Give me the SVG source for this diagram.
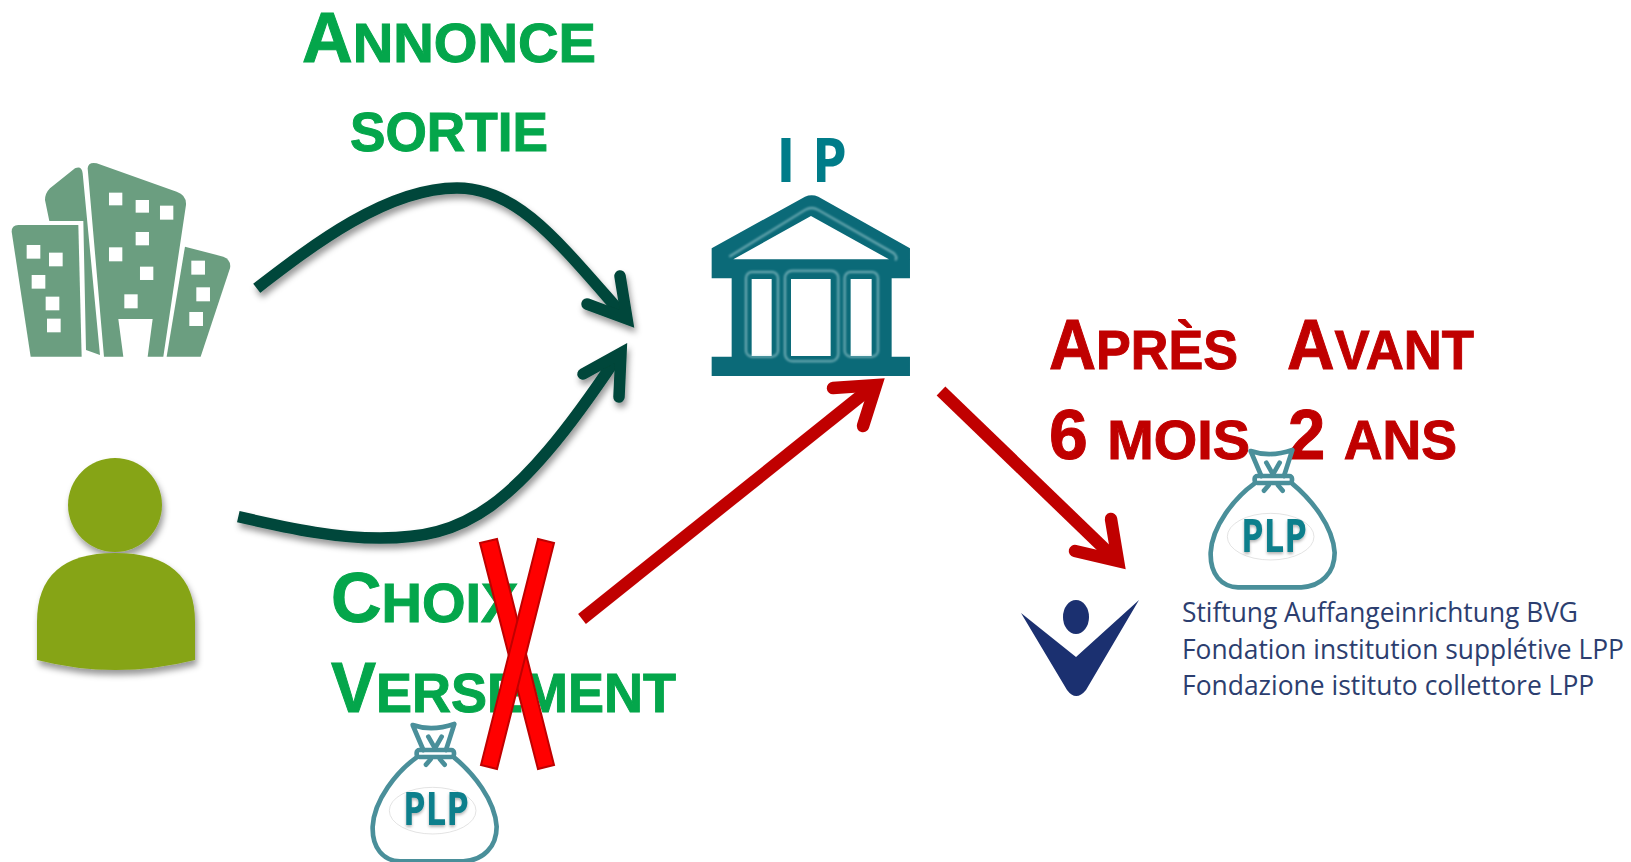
<svg xmlns="http://www.w3.org/2000/svg" width="1631" height="862" viewBox="0 0 1631 862">
<style>
.g{fill:#04A64B;stroke:#04A64B}.r{fill:#C00000;stroke:#C00000}
.big{font:bold 70px "Liberation Sans",Arial,sans-serif;stroke-width:1}
.sm{font-size:56px}
.dk{fill:none;stroke:#04463A;stroke-width:11.5}
.rd{fill:none;stroke:#C00000;stroke-width:12.5}
.hd{stroke-linecap:round;stroke-linejoin:miter;stroke-miterlimit:10}
.x{fill:#FF0000;stroke:#C00000;stroke-width:2}
.w{fill:#fff}
.bag{fill:none;stroke:#4A8F9A;stroke-width:14;stroke-linecap:round;stroke-linejoin:round}
.plp{font:bold 46px "Open Sans",sans-serif;fill:#0B7F8C;filter:url(#ts)}
.lg{font:27px "Open Sans",sans-serif;fill:#2C3E6F}
.ip{font:bold 60px "Open Sans",sans-serif;fill:#007C89}
</style>
<defs>
<filter id="sh" x="-20%" y="-20%" width="140%" height="140%"><feDropShadow dx="2" dy="5" stdDeviation="3" flood-color="#000" flood-opacity=".4"/></filter>
<filter id="ts" x="-10%" y="-10%" width="120%" height="130%"><feDropShadow dx="0" dy="2" stdDeviation="1.5" flood-color="#000" flood-opacity=".3"/></filter>
<filter id="gl" x="-10%" y="-10%" width="120%" height="120%"><feGaussianBlur stdDeviation="3"/></filter>
<g id="bag">
<path class="w" style="stroke:none" d="M170,172C110,215 42,300 38,380C36,445 70,482 120,484L310,484C370,482 410,440 410,380C405,300 340,220 282,172Z"/>
<path class="bag" d="M170,172C110,215 42,300 38,380C36,445 70,482 120,484L310,484C370,482 410,440 410,380C405,300 340,220 282,172"/>
<path class="bag" d="M190,150L158,75Q215,95 283,72L258,150"/>
<rect class="bag" x="170" y="150" width="112" height="21" rx="8"/>
<path class="bag" d="M205,110L225,145L245,110M212,178L198,194M240,178L254,194"/>
<ellipse cx="218" cy="332" rx="130" ry="70" fill="#fff" stroke="#d5d5d5" stroke-width="2"/>
</g>
</defs>

<g id="connectors">
<g filter="url(#sh)">
<path class="dk" d="M256.7,288.3C313,245 387,188 457,188C517,188 557,240 623,315"/>
<path class="dk hd" d="M620,276L627,319L587,304"/>
<path class="dk" d="M238.3,516.7C297,530 337,538 380,538C463,538 513,513 617,357"/>
<path class="dk hd" d="M619,397L621,353L583,374"/>
</g>
<path class="rd" d="M582,619L872,387"/>
<path class="rd hd" d="M833,388L876,385L863,426"/>
<path class="rd" d="M941,391L1112,556"/>
<path class="rd hd" d="M1111,519L1118,561L1075,551"/>
</g>

<g id="building">
<g transform="translate(0,140) scale(.3333)">
<g fill="#6B9E80">
<path d="M135,180Q135,160 150,145L225,85Q245,75 248,100L300,645L258,630L250,243L148,243Z"/>
<path d="M263,85Q265,65 290,70L530,155Q560,165 558,195L490,650L443,650L458,537L355,537L370,650L312,650Z"/>
<path d="M555,320L670,350Q695,360 690,385L602,650L500,650Z"/>
<path d="M35,275Q35,255 55,255L235,255L245,650L92,650Z"/>
</g>
<g class="w">
<rect x="327" y="158" width="40" height="38"/><rect x="407" y="180" width="40" height="38"/><rect x="480" y="197" width="40" height="42"/>
<rect x="407" y="276" width="40" height="40"/><rect x="327" y="322" width="40" height="42"/><rect x="420" y="380" width="40" height="40"/><rect x="373" y="463" width="40" height="42"/>
<rect x="80" y="315" width="41" height="41"/><rect x="147" y="338" width="41" height="41"/><rect x="95" y="405" width="41" height="41"/><rect x="137" y="470" width="41" height="41"/><rect x="141" y="536" width="41" height="41"/>
<rect x="574" y="362" width="41" height="42"/><rect x="589" y="442" width="41" height="42"/><rect x="568" y="516" width="41" height="42"/>
</g>
</g>
</g>

<g id="person" fill="#86A418" filter="url(#sh)">
<circle cx="115" cy="505" r="47"/>
<path d="M37,660L37,622Q37,553 115,553Q195,553 195,622L195,660Q115,680 37,660Z"/>
</g>

<g id="bank">
<g transform="translate(690,120) scale(.3333)">
<path fill="#0B6A78" fill-rule="evenodd" d="M65,385L345,230Q365,222 385,230L660,385L660,475L605,475L605,710L660,710L660,768L65,768L65,710L125,710L125,475L65,475ZM130,418L363,288L597,418ZM185,477L185,708L245,708L245,477ZM303,477L303,708L422,708L422,477ZM482,477L482,708L545,708L545,477Z"/>
<g fill="none" stroke="#BFE0E4" stroke-width="6" opacity=".6" filter="url(#gl)">
<path d="M118,410L345,270Q365,258 385,270L612,400Q625,415 615,420"/>
<rect x="168" y="456" width="96" height="254" rx="18"/>
<rect x="285" y="452" width="160" height="272" rx="22"/>
<rect x="464" y="456" width="100" height="254" rx="18"/>
</g>
</g>
<text class="ip" x="776" y="182">I</text>
<text class="ip" x="812" y="182" textLength="35" lengthAdjust="spacingAndGlyphs">P</text>
</g>

<g id="label-annonce" class="big g">
<text x="302" y="62" textLength="294" lengthAdjust="spacingAndGlyphs">A<tspan class="sm">NNONCE</tspan></text>
<text x="350" y="151" class="sm" textLength="198" lengthAdjust="spacingAndGlyphs">SORTIE</text>
</g>
<g id="label-choix" class="big g">
<text x="331" y="622">C<tspan class="sm">HOIX</tspan></text>
<text x="331" y="712" textLength="345" lengthAdjust="spacingAndGlyphs">V<tspan class="sm">ERSEMENT</tspan></text>
</g>
<g id="label-delais" class="big r">
<text x="1049" y="369" textLength="189" lengthAdjust="spacingAndGlyphs">A<tspan class="sm">PRÈS</tspan></text>
<text x="1287" y="369" textLength="187" lengthAdjust="spacingAndGlyphs">A<tspan class="sm">VANT</tspan></text>
<text x="1049" y="459" textLength="201" lengthAdjust="spacingAndGlyphs">6 <tspan class="sm">MOIS</tspan></text>
<text x="1288" y="459" textLength="169" lengthAdjust="spacingAndGlyphs">2 <tspan class="sm">ANS</tspan></text>
</g>

<g id="cross">
<polygon class="x" points="480,543 497,539 554,765 538,769"/>
<polygon class="x" points="538,539 554,543 497,769 481,765"/>
</g>

<g id="bag-choix">
<use href="#bag" transform="translate(360,700) scale(.3333)"/>
<text class="plp" x="403" y="825" textLength="66" lengthAdjust="spacingAndGlyphs">PLP</text>
</g>
<g id="bag-fondation">
<use href="#bag" transform="translate(1198,426) scale(.3333)"/>
<text class="plp" x="1241" y="552" textLength="66" lengthAdjust="spacingAndGlyphs">PLP</text>
</g>

<g id="fondation">
<ellipse cx="1076" cy="617" rx="13" ry="17" fill="#1B3070"/>
<path fill="#1B3070" d="M1021,613L1076,657L1139,600L1086,690Q1076,702 1067,690Z"/>
<text class="lg" transform="translate(1182,622) scale(.9,1)" textLength="440" lengthAdjust="spacingAndGlyphs">Stiftung Auffangeinrichtung BVG</text>
<text class="lg" transform="translate(1182,659) scale(.9,1)" textLength="491" lengthAdjust="spacingAndGlyphs">Fondation institution supplétive LPP</text>
<text class="lg" transform="translate(1182,695) scale(.9,1)" textLength="458" lengthAdjust="spacingAndGlyphs">Fondazione istituto collettore LPP</text>
</g>
</svg>
